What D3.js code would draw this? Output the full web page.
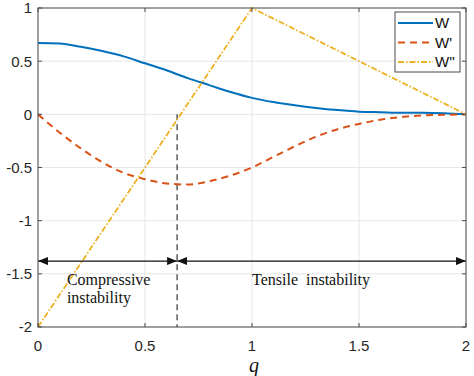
<!DOCTYPE html>
<html>
<head>
<meta charset="utf-8">
<script src="https://cdn.jsdelivr.net/npm/d3@7"></script>
<style>
  body { margin: 0; background: #fff; }
  svg { display: block; }
</style>
</head>
<body>
<svg id="chart" width="474" height="376"></svg>
<script>
// values
const qValues = [0, 0.1, 0.2, 0.3, 0.4, 0.5, 0.6, 0.7, 0.8, 0.9, 1.0,
                 1.1, 1.2, 1.3, 1.4, 1.5, 1.6, 1.7, 1.8, 1.9, 2.0]
const wValues = [0.67, 0.665, 0.635, 0.595, 0.545, 0.48, 0.415, 0.34, 0.275, 0.21, 0.155,
                 0.115, 0.085, 0.06, 0.04, 0.025, 0.02, 0.015, 0.015, 0.01, 0.0]
const w1Values = [0, -0.17, -0.32, -0.45, -0.55, -0.61, -0.65, -0.66, -0.63, -0.575, -0.50,
                  -0.40, -0.30, -0.21, -0.14, -0.09, -0.05, -0.025, -0.01, -0.005, 0]
const w2Q = [0, 1, 2]
const w2Values = [-2, 1, 0]

const xTicks = [0, 0.5, 1, 1.5, 2]
const yTicks = [1, 0.5, 0, -0.5, -1, -1.5, -2]
const seriesNames = ["W", "W'", "W''"]

const splitQ = 0.65     // boundary between the two regions
const arrowLevel = -1.38
const regions = [
  {from: 0, to: splitQ, textQ: 0.135, lines: ["Compressive", "instability"]},
  {from: splitQ, to: 2, textQ: 1.0, lines: ["Tensile  instability"]},
]

const svg = d3.select("#chart")
const x = d3.scaleLinear().domain([0, 2]).range([38, 466])
const y = d3.scaleLinear().domain([-2, 1]).range([327, 8])

const series = [
  {name: seriesNames[0], pts: qValues.map((q, i) => [q, wValues[i]]),
   color: "#0072BD", width: 2, dash: null, smooth: true},
  {name: seriesNames[1], pts: qValues.map((q, i) => [q, w1Values[i]]),
   color: "#D95319", width: 2, dash: "7,5", smooth: true},
  {name: seriesNames[2], pts: w2Q.map((q, i) => [q, w2Values[i]]),
   color: "#EDB120", width: 1.8, dash: "6,2,1.5,2", smooth: false},
]

///// GRID /////
const grid = svg.append("g").attr("class", "grid")
grid.selectAll("line.gx").data(xTicks).join("line")
  .attr("class", "gx")
  .attr("x1", d => x(d)).attr("x2", d => x(d))
  .attr("y1", y(-2)).attr("y2", y(1))
  .attr("stroke", "#e6e6e6").attr("stroke-width", 1)
grid.selectAll("line.gy").data(yTicks).join("line")
  .attr("class", "gy")
  .attr("x1", x(0)).attr("x2", x(2))
  .attr("y1", d => y(d)).attr("y2", d => y(d))
  .attr("stroke", "#e6e6e6").attr("stroke-width", 1)

///// LINES /////
const straight = d3.line().x(d => x(d[0])).y(d => y(d[1]))
const smooth = d3.line().x(d => x(d[0])).y(d => y(d[1])).curve(d3.curveMonotoneX)

// vertical dashed marker at the split
svg.append("line")
  .attr("x1", x(splitQ)).attr("x2", x(splitQ))
  .attr("y1", y(0)).attr("y2", y(-2))
  .attr("stroke", "#333").attr("stroke-width", 1.2)
  .attr("stroke-dasharray", "6,4")

svg.append("g").selectAll("path").data(series).join("path")
  .attr("d", d => d.smooth ? smooth(d.pts) : straight(d.pts))
  .attr("fill", "none")
  .attr("stroke", d => d.color)
  .attr("stroke-width", d => d.width)
  .attr("stroke-dasharray", d => d.dash)

///// ANNOTATIONS /////
const defs = svg.append("defs")
defs.append("marker")
  .attr("id", "head")
  .attr("viewBox", "0 0 10 8")
  .attr("refX", 10).attr("refY", 4)
  .attr("markerWidth", 10).attr("markerHeight", 8)
  .attr("markerUnits", "userSpaceOnUse")
  .attr("orient", "auto-start-reverse")
  .append("path").attr("d", "M0,0 L10,4 L0,8 Z").attr("fill", "#111")

const ann = svg.append("g").attr("class", "annotations")
ann.selectAll("line").data(regions).join("line")
  .attr("x1", d => x(d.from)).attr("x2", d => x(d.to))
  .attr("y1", y(arrowLevel)).attr("y2", y(arrowLevel))
  .attr("stroke", "#111").attr("stroke-width", 1.2)
  .attr("marker-start", "url(#head)").attr("marker-end", "url(#head)")

ann.selectAll("text").data(regions).join("text")
  .attr("x", d => x(d.textQ))
  .attr("y", y(arrowLevel) + 24)
  .attr("font-family", "'Liberation Serif', 'Times New Roman', serif")
  .attr("font-size", 16)
  .attr("fill", "#111")
  .style("white-space", "pre")
  .selectAll("tspan").data(d => d.lines).join("tspan")
    .attr("x", function() { return d3.select(this.parentNode).attr("x") })
    .attr("dy", (_, i) => i === 0 ? 0 : 18)
    .text(d => d)

///// AXES BOX /////
const axisColor = "#4d4d4d"
svg.append("rect")
  .attr("x", x(0)).attr("y", y(1))
  .attr("width", x(2) - x(0)).attr("height", y(-2) - y(1))
  .attr("fill", "none").attr("stroke", axisColor).attr("stroke-width", 1)

const tickLen = 4
const ticks = svg.append("g").attr("stroke", axisColor).attr("stroke-width", 1)
xTicks.forEach(t => {
  ticks.append("line").attr("x1", x(t)).attr("x2", x(t)).attr("y1", y(-2)).attr("y2", y(-2) - tickLen)
  ticks.append("line").attr("x1", x(t)).attr("x2", x(t)).attr("y1", y(1)).attr("y2", y(1) + tickLen)
})
yTicks.forEach(t => {
  ticks.append("line").attr("x1", x(0)).attr("x2", x(0) + tickLen).attr("y1", y(t)).attr("y2", y(t))
  ticks.append("line").attr("x1", x(2)).attr("x2", x(2) - tickLen).attr("y1", y(t)).attr("y2", y(t))
})

const labelFont = "'Liberation Sans', Arial, sans-serif"
svg.append("g").selectAll("text").data(xTicks).join("text")
  .attr("x", d => x(d)).attr("y", y(-2) + 24)
  .attr("text-anchor", "middle")
  .attr("font-family", labelFont).attr("font-size", 15).attr("fill", "#262626")
  .text(d => d)

svg.append("g").selectAll("text").data(yTicks).join("text")
  .attr("x", x(0) - 6).attr("y", d => y(d)).attr("dy", "0.36em")
  .attr("text-anchor", "end")
  .attr("font-family", labelFont).attr("font-size", 15).attr("fill", "#262626")
  .text(d => d)

svg.append("text")
  .attr("x", x(1) + 2).attr("y", y(-2) + 45)
  .attr("text-anchor", "middle")
  .attr("font-family", "'Liberation Serif', 'Times New Roman', serif")
  .attr("font-style", "italic").attr("font-size", 20).attr("fill", "#111")
  .text("q")

///// LEGEND /////
const legend = svg.append("g").attr("transform", "translate(395,12)")
legend.append("rect")
  .attr("width", 65).attr("height", 60)
  .attr("fill", "#fff").attr("stroke", axisColor).attr("stroke-width", 1)
const items = legend.selectAll("g.item").data(series).join("g")
  .attr("class", "item")
  .attr("transform", (_, i) => `translate(0,${11 + i * 19.5})`)
items.append("line")
  .attr("x1", 3).attr("x2", 38)
  .attr("stroke", d => d.color).attr("stroke-width", d => d.width)
  .attr("stroke-dasharray", d => d.dash)
items.append("text")
  .attr("x", 40).attr("dy", "0.36em")
  .attr("font-family", labelFont).attr("font-size", 15).attr("fill", "#111")
  .text(d => d.name)
</script>
</body>
</html>
